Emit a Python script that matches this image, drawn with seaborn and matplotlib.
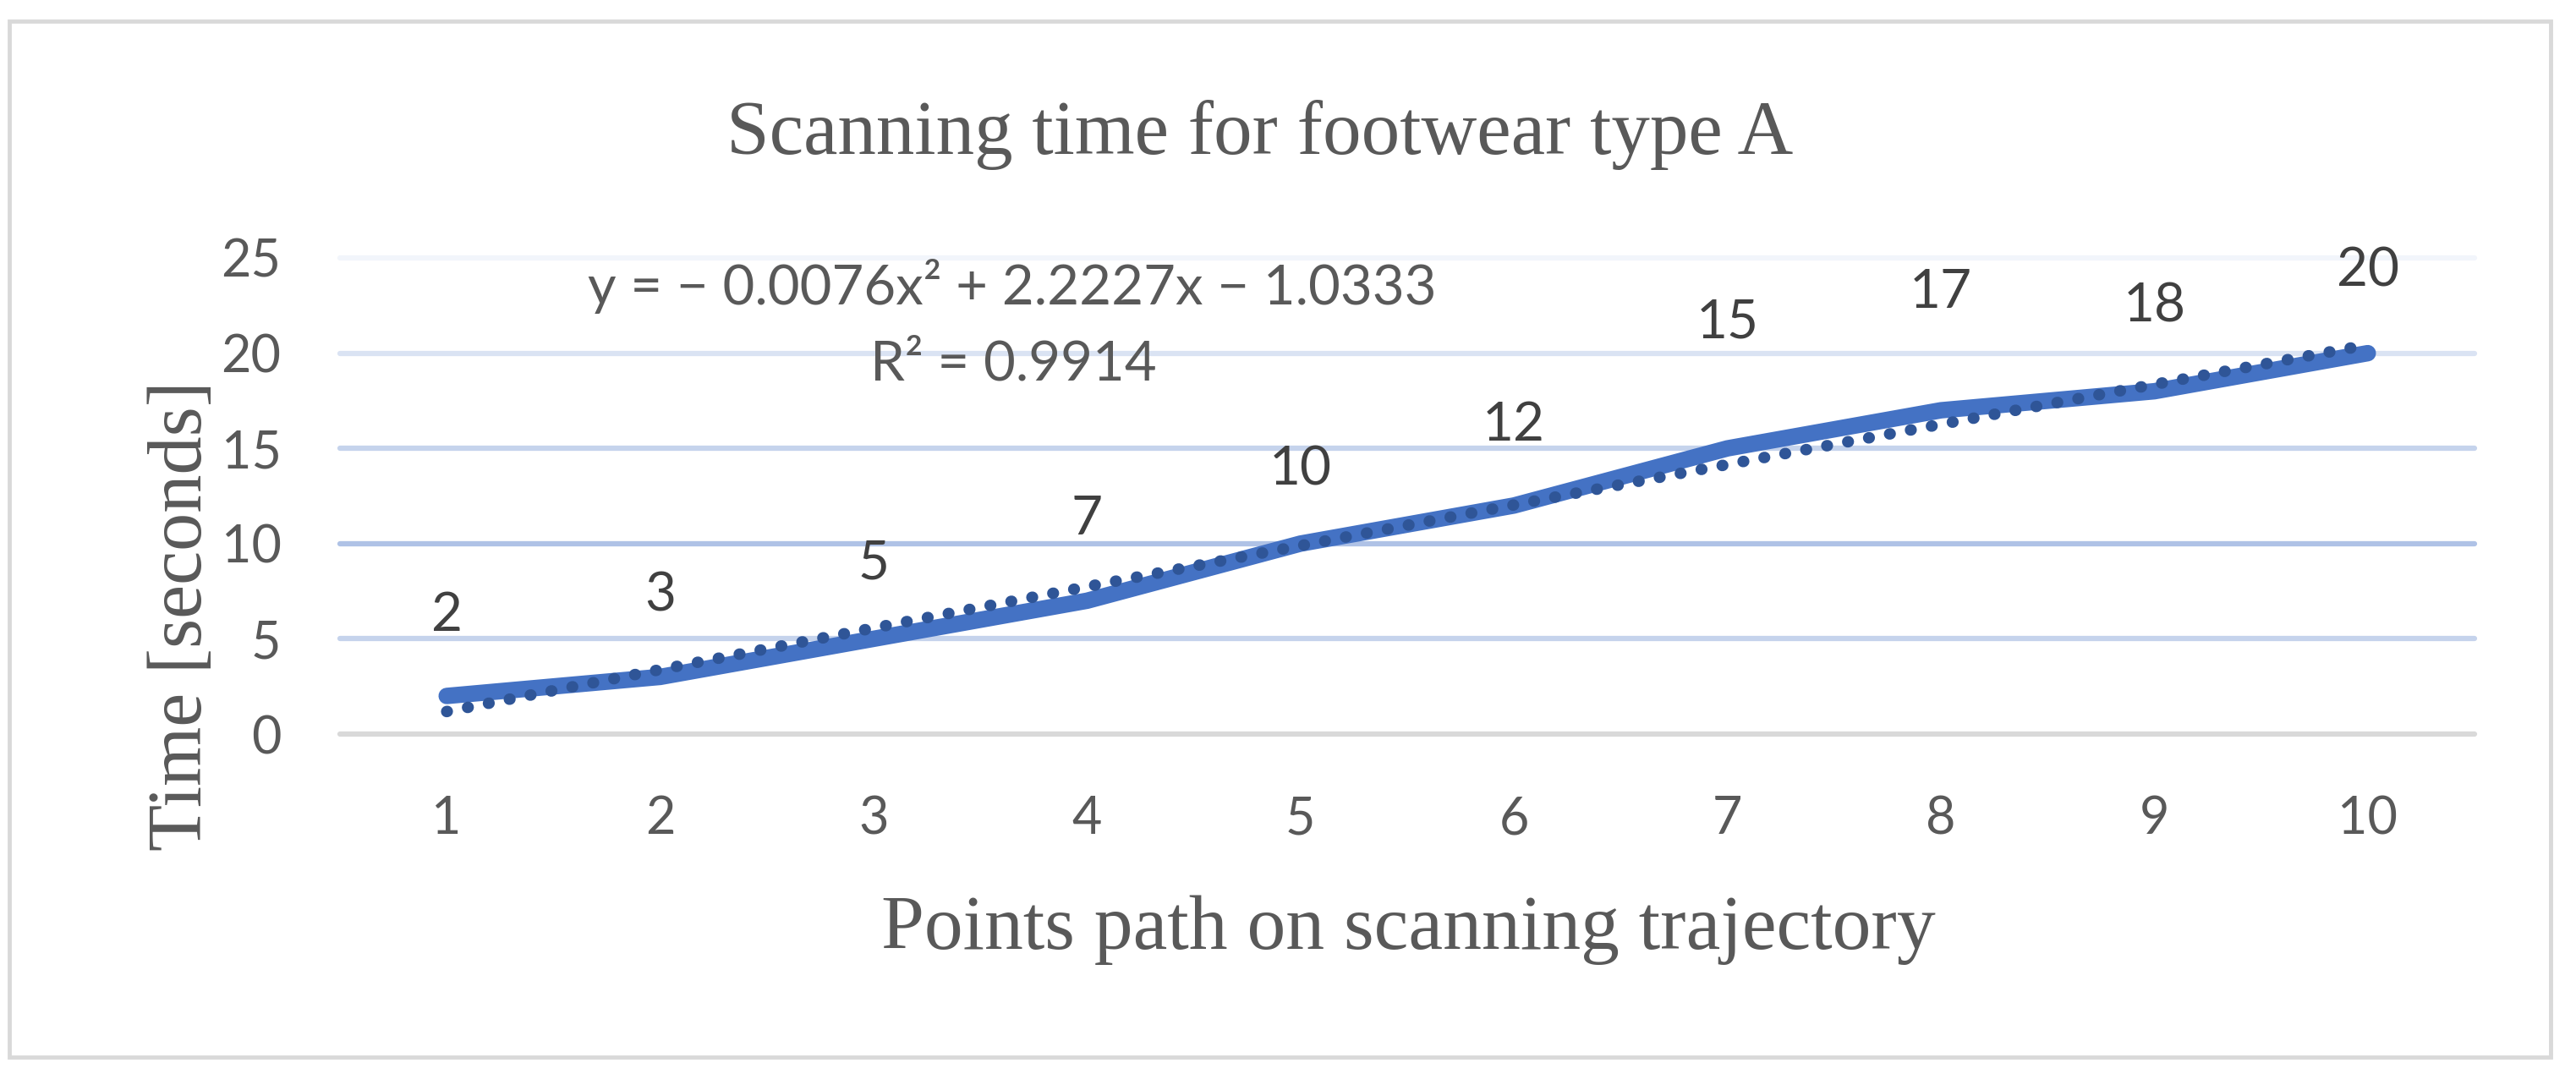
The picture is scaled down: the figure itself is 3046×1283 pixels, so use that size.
import numpy as np
import pandas as pd
import matplotlib
matplotlib.use("Agg")
import matplotlib.pyplot as plt
import seaborn as sns
from matplotlib.patches import Rectangle

# ---- data ----
points = [1, 2, 3, 4, 5, 6, 7, 8, 9, 10]
times = [2, 3, 5, 7, 10, 12, 15, 17, 18, 20]
y_ticks = [0, 5, 10, 15, 20, 25]
title = "Scanning time for footwear type A"
x_label = "Points path on scanning trajectory"
y_label = "Time [seconds]"
eq_text = "y = \u2212 0.0076x\u00b2 + 2.2227x \u2212 1.0333"
r2_text = "R\u00b2 = 0.9914"

# ---- style ----
label_offsets_pt = [72, 73, 68, 73, 67, 72, 111, 104, 76, 74]
grid_colors = ["#D9D9D9", "#C5D3EC", "#AFC2E6", "#C5D3EC", "#DAE3F3", "#F2F5FB"]
W, H = 3046, 1283

sns.set_style("white")
plt.rcParams['font.family'] = ['Lato', 'DejaVu Sans']
SERIF = ['Liberation Serif', 'DejaVu Serif']
GRAY = "#595959"

df = pd.DataFrame({"point": points, "time": times})

fig = plt.figure(figsize=(W / 100, H / 100), dpi=100)
ax = fig.add_axes([402 / W, 1 - 868 / H, 2524 / W, 563 / H])

sns.lineplot(data=df, x="point", y="time", ax=ax, color="#4472C4", linewidth=14,
             solid_capstyle="round", solid_joinstyle="round", zorder=3)
sns.regplot(data=df, x="point", y="time", order=2, ci=None, scatter=False, ax=ax,
            truncate=True,
            line_kws=dict(color="#2F5597", linewidth=9.8,
                          linestyle=(0, (0.05, 1.8)),
                          dash_capstyle="round", zorder=4))

ax.set_xlim(0.5, 10.5)
ax.set_ylim(0, 25)
ax.set_xticks(points)
ax.set_yticks(y_ticks)
ax.set_xlabel("")
ax.set_ylabel("")
for s in ax.spines.values():
    s.set_visible(False)
ax.tick_params(length=0, labelsize=44, labelcolor=GRAY)
ax.tick_params(axis='y', pad=50)
ax.tick_params(axis='x', pad=52)
ax.set_axisbelow(True)
ax.grid(axis='y', linewidth=4.5)
ax.grid(axis='x', visible=False)
for gl, c in zip(ax.yaxis.get_gridlines(), grid_colors):
    gl.set_color(c)
    gl.set_clip_on(False)

for x, y, off in zip(points, times, label_offsets_pt):
    ax.annotate(str(y), (x, y), xytext=(0, off), textcoords="offset points",
                ha="center", va="center_baseline", fontsize=46, color="#404040")

fig.text(1490 / W, 1 - 182 / H, title, ha="center", va="baseline",
         fontsize=65.5, color=GRAY, family=SERIF)
fig.text(1665 / W, 1 - 1122 / H, x_label, ha="center", va="baseline",
         fontsize=66, color=GRAY, family=SERIF)
fig.text(238 / W, 1 - 728 / H, y_label, ha="center", va="baseline", rotation=90,
         rotation_mode="anchor", fontsize=65, color=GRAY, family=SERIF)
fig.text(1197 / W, 1 - 360 / H, eq_text, ha="center", va="baseline",
         fontsize=47, color=GRAY)
fig.text(1198 / W, 1 - 450 / H, r2_text, ha="center", va="baseline",
         fontsize=47, color=GRAY)

fig.add_artist(Rectangle((11 / W, 1 - 1250 / H), (3016 - 11) / W, (1250 - 25) / H,
                         transform=fig.transFigure, fill=False,
                         edgecolor="#D9D9D9", linewidth=3.5))

fig.savefig("out.png", dpi=100, facecolor="white")
